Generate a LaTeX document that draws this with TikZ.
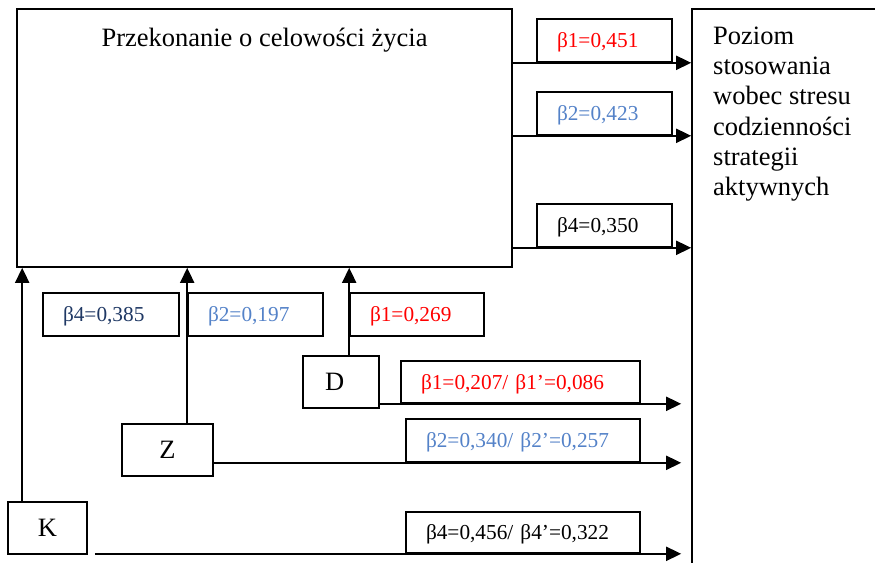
\documentclass[tikz,border=0pt]{standalone}
\usepackage{fontspec}
\setmainfont{Liberation Serif}
\usetikzlibrary{arrows.meta}
\definecolor{betared}{RGB}{255,0,0}
\definecolor{betablue}{RGB}{84,130,200}
\definecolor{betanavy}{RGB}{31,56,100}

\begin{document}
\begin{tikzpicture}[x=1pt,y=-1pt,
  bigfont/.style={font=\fontsize{26.5pt}{30.3pt}\selectfont},
  lblfont/.style={font=\fontsize{21.3pt}{24pt}\selectfont},
  frame/.style={draw, line width=1.6pt, rectangle, inner sep=0pt},
  coef/.style={frame, lblfont, minimum height=43pt, inner xsep=20pt, inner ysep=0pt,
    text width=#1, align=left, text height=19pt, text depth=4.5pt},
  var/.style={frame, bigfont, minimum height=52pt},
  arr/.style={line width=1.8pt, -{Triangle[length=15pt,width=14pt]}}]
\useasboundingbox (0,0) rectangle (875,562);

% main mediator and outcome
\node[frame, minimum width=495pt, minimum height=258pt] (belief) at (264.5,138) {};
\node[bigfont, anchor=base] (beliefname) at ([yshift=-38pt]belief.north) {Przekonanie o celowości życia};
\node[frame, minimum width=228pt, minimum height=591pt] (outcome) at (806,304.5) {};
\node[bigfont, anchor=north west, align=left, inner sep=0pt] (outcomename) at (713,26.5)
  {Poziom\\stosowania\\wobec stresu\\codzienności\\strategii\\aktywnych};

% predictors
\node[var, minimum width=76pt, inner xsep=22pt, text width=32pt, align=left] (D) at (341,382) {D};
\node[var, minimum width=91pt] (Z) at (167.5,450) {Z};
\node[var, minimum width=79pt] (K) at (47.5,528) {K};

% coefficients: mediator -> outcome
\node[coef=95pt, text=betared] (b1) at (604.5,40.5) {β1=0,451};
\node[coef=95pt, text=betablue] (b2) at (604.5,113.5) {β2=0,423};
\node[coef=95pt] (b4) at (604.5,225.5) {β4=0,350};

% coefficients: predictors -> mediator
\node[coef=96pt, text=betanavy] (c4) at (111,314.5) {β4=0,385};
\node[coef=95pt, text=betablue] (c2) at (255.5,314.5) {β2=0,197};
\node[coef=94pt, text=betared] (c1) at (417,314.5) {β1=0,269};

% coefficients: predictors -> outcome
\node[coef=199pt, text=betared, minimum height=42pt] (d1) at (520.5,382) {β1=0,207/ β1’=0,086};
\node[coef=194pt, text=betablue] (z1) at (523,440.5) {β2=0,340/ β2’=0,257};
\node[coef=194pt, minimum height=41pt] (k1) at (523,532.5) {β4=0,456/ β4’=0,322};

% helper points
\coordinate (kx) at ([xshift=15pt]K.north west);
\coordinate (zx) at ([xshift=66pt]Z.north west);
\coordinate (dx) at ([xshift=47pt]D.north west);
\coordinate (stop) at ([xshift=-10pt]outcome.west);
\coordinate (kstart) at ([xshift=7pt]K.east);

% mediator -> outcome
\draw[arr] (belief.east |- b1.south) -- (outcome.west |- b1.south);
\draw[arr] (belief.east |- b2.south) -- (outcome.west |- b2.south);
\draw[arr] (belief.east |- b4.south) -- (outcome.west |- b4.south);

% predictors -> mediator
\draw[arr] (kx) -- (kx |- belief.south);
\draw[arr] (zx) -- (zx |- belief.south);
\draw[arr] (dx) -- (dx |- belief.south);

% predictors -> outcome
\draw[arr] (D.east |- d1.south) -- (stop |- d1.south);
\draw[arr] (Z.east |- z1.south) -- (stop |- z1.south);
\draw[arr] (kstart |- k1.south) -- (stop |- k1.south);
\end{tikzpicture}
\end{document}
